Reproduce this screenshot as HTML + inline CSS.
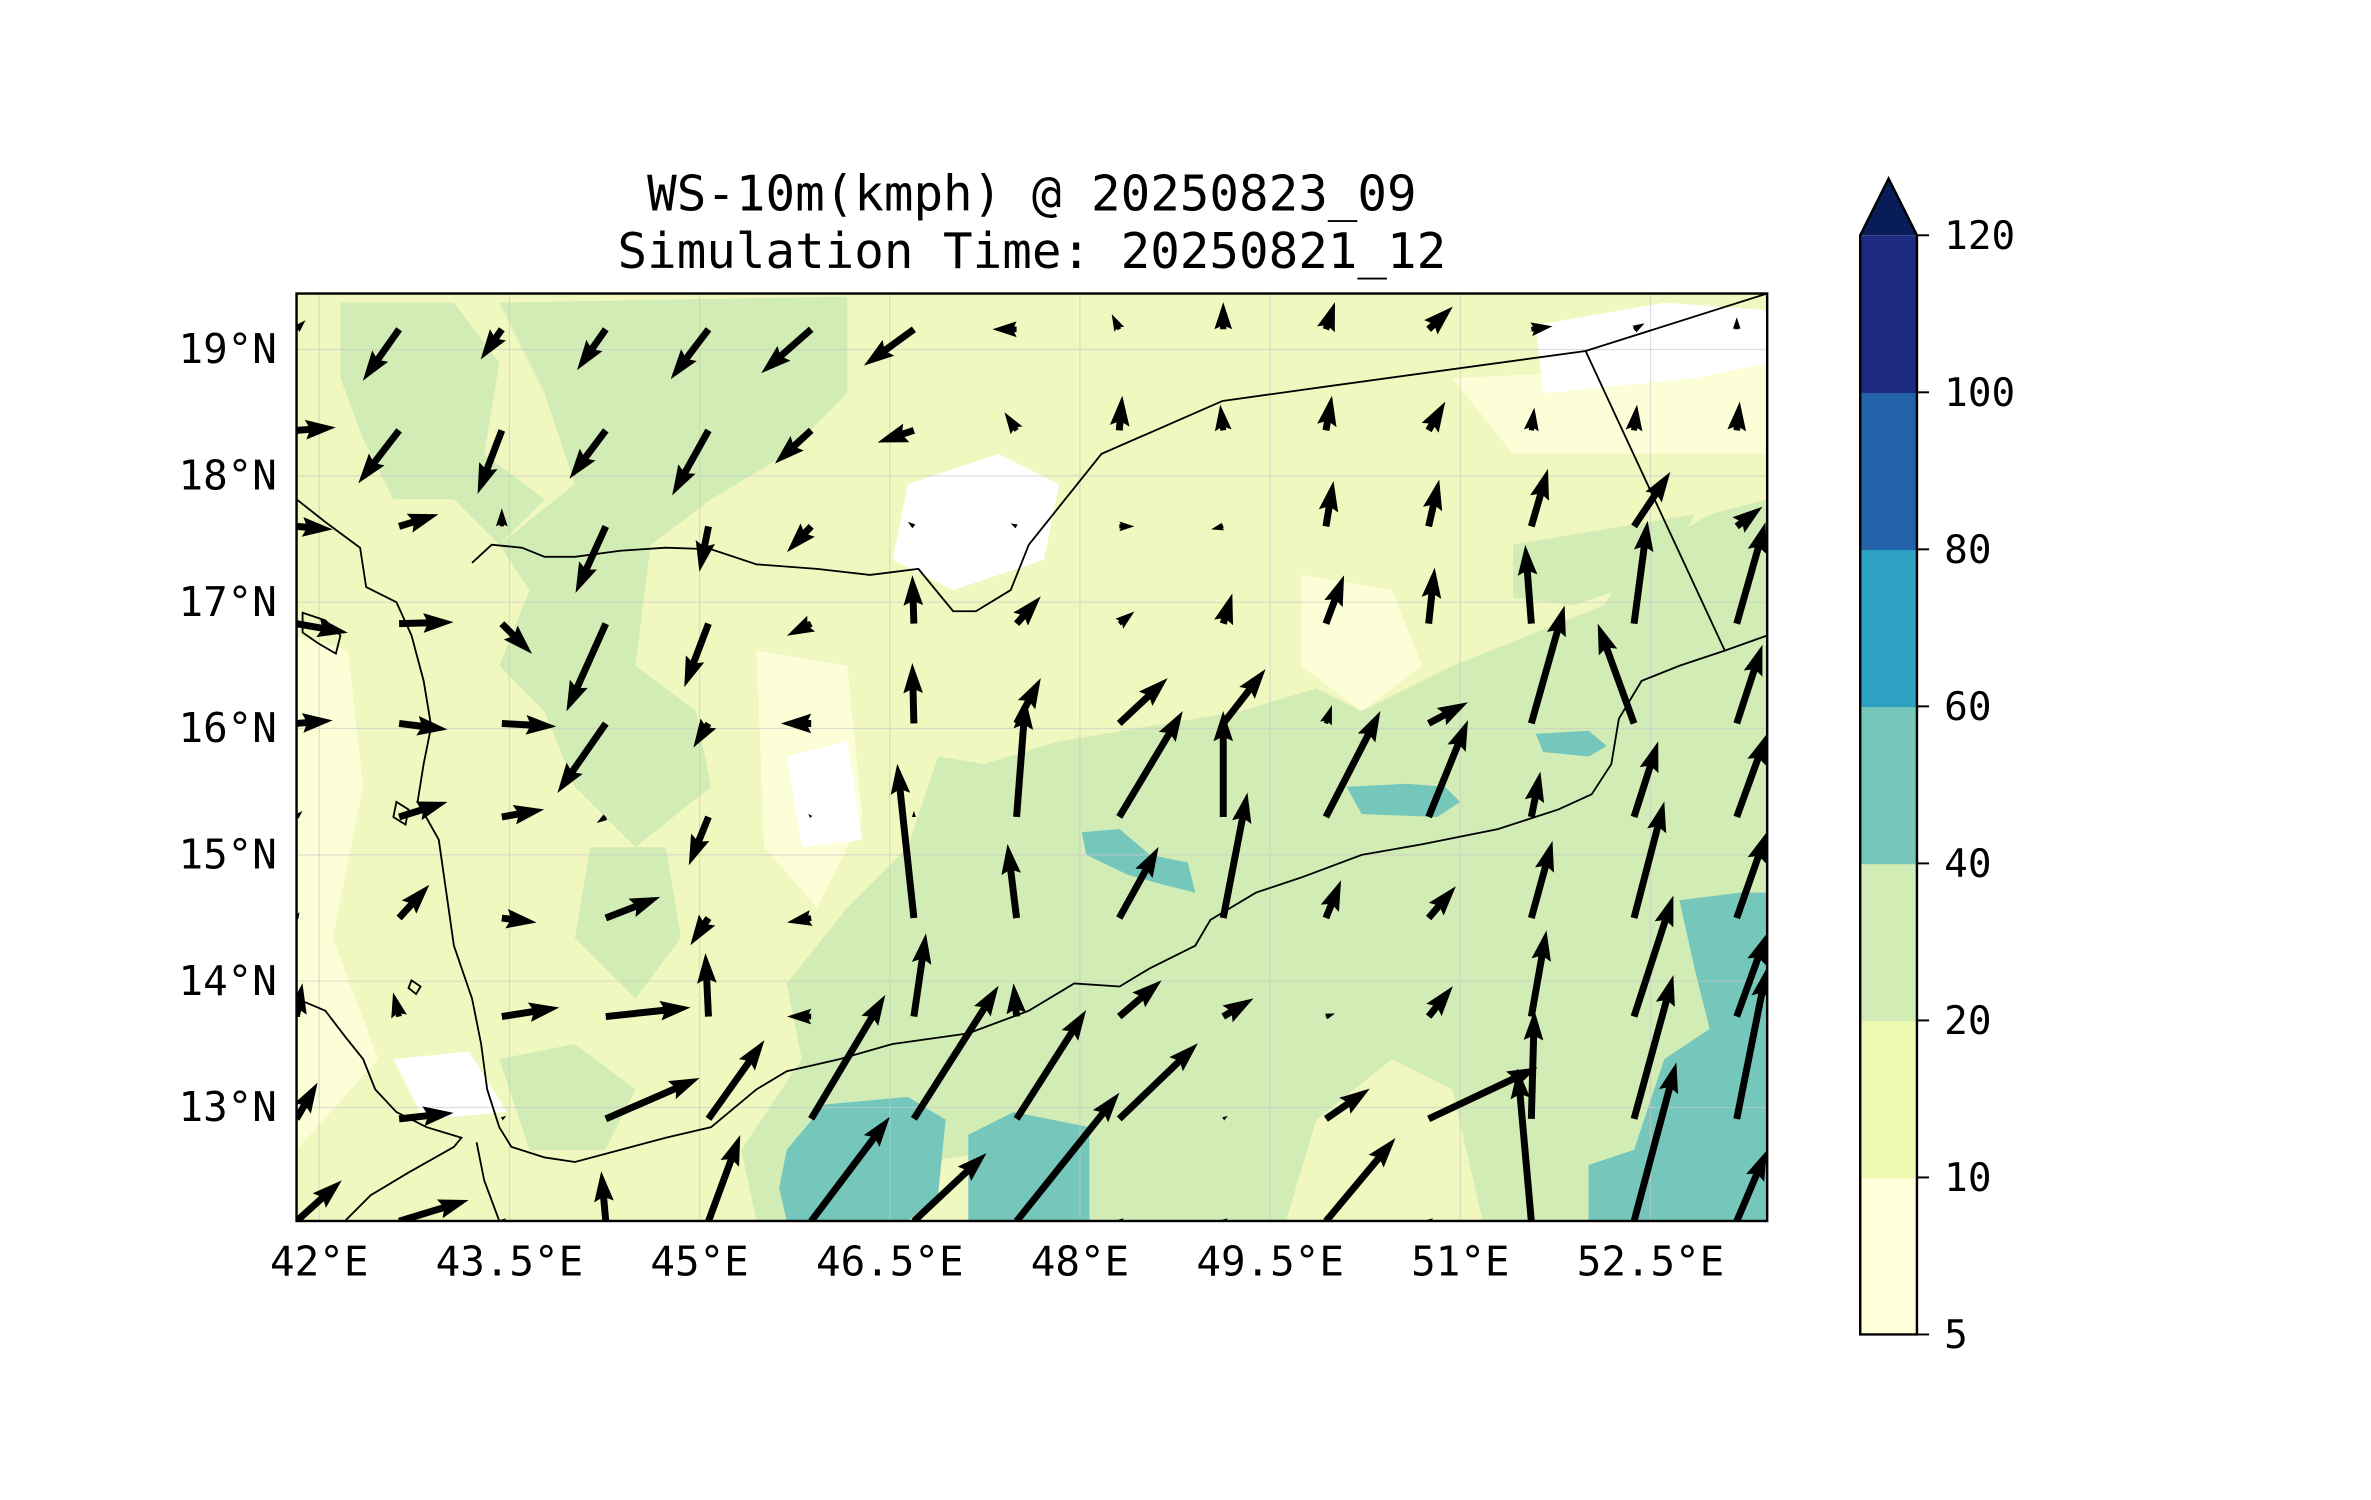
<!DOCTYPE html>
<html><head><meta charset="utf-8"><style>
html,body{margin:0;padding:0;background:#fff;}
svg{display:block;}
text{font-family:"DejaVu Sans Mono","Liberation Mono",monospace;fill:#000;}
</style></head><body>
<svg id="fig" width="2371" height="1500" viewBox="0 0 1567.1 991.4" xmlns="http://www.w3.org/2000/svg">
<defs><clipPath id="mapclip"><rect x="196" y="194" width="972" height="613"/></clipPath></defs>
<text x="682" y="139" font-size="32.5" text-anchor="middle">WS-10m(kmph) @ 20250823_09</text>
<text x="682" y="177" font-size="32.5" text-anchor="middle">Simulation Time: 20250821_12</text>
<g id="map" clip-path="url(#mapclip)">
<rect x="196" y="194" width="972" height="613" fill="#f0f8bf"/>
<g id="fills">
<path fill="#fbfed6" d="M196,420 L230,430 L240,520 L220,620 L250,700 L196,760Z M500,430 L560,440 L570,540 L540,600 L505,560Z M860,380 L920,390 L940,440 L900,470 L860,440Z M700,700 L820,690 L860,760 L820,807 L700,807Z M960,250 L1168,240 L1168,300 L1000,300Z"/>
<path fill="#ffffff" d="M600,320 L660,300 L700,320 L690,370 L630,390 L590,370Z M875,465 L905,470 L905,505 L878,505Z M1015,215 L1100,200 L1168,205 L1168,240 L1120,250 L1020,260Z M520,500 L560,490 L570,555 L530,560Z M260,700 L310,695 L335,735 L280,740Z M780,720 L820,730 L810,760 L780,755Z"/>
<path fill="#d2ecb5" d="M225,200 L300,200 L330,240 L320,300 L360,330 L330,360 L300,330 L260,330 L240,290 L225,250Z M330,200 L560,196 L560,260 L520,300 L470,330 L430,360 L420,440 L460,470 L470,520 L420,560 L380,520 L360,470 L330,440 L350,390 L330,360 L380,320 L360,260Z M390,560 L440,560 L450,620 L420,660 L380,620Z"/>
<path fill="#d2ecb5" d="M560,600 L600,560 L620,500 L650,505 L700,490 L760,480 L820,470 L870,455 L900,470 L960,440 L1010,420 L1060,400 L1080,370 L1130,340 L1168,330 L1168,807 L980,807 L960,720 L920,700 L870,740 L850,807 L700,807 L660,760 L600,770 L560,807 L500,807 L490,760 L530,700 L520,650Z M900,560 L960,550 L1040,530 L1070,520 L1070,600 L980,620 L930,640Z M1000,360 L1060,350 L1120,340 L1100,380 L1040,400 L1000,395Z M330,700 L380,690 L420,720 L400,760 L350,760Z"/>
<path fill="#74c7ba" d="M520,760 L545,730 L600,725 L625,740 L620,790 L600,807 L520,807 L515,785Z M640,750 L670,735 L720,745 L720,807 L640,807Z M1110,595 L1150,590 L1168,590 L1168,807 L1050,807 L1050,770 L1080,760 L1100,700 L1130,680 L1120,640Z M715,550 L740,548 L760,565 L785,570 L790,590 L770,585 L745,578 L718,565Z M890,520 L930,518 L955,520 L965,530 L950,540 L900,538Z M1015,485 L1050,483 L1062,493 L1050,500 L1020,497Z"/>
</g>
<g stroke="#c8c8c8" stroke-opacity="0.6" stroke-width="0.8" id="grid"></g>
<g fill="none" stroke="#000" stroke-width="1.2">
<polyline points="196,330 215,345 238,362 242,388 262,398 272,420 280,450 285,480 280,505 276,530 290,555 295,590 300,625 312,660 318,690 322,720 330,745 338,758 360,765 380,768 410,760 440,752 470,745 500,720 520,708 555,700 590,690 640,683 680,668 710,650 740,652 760,640 790,625 800,608 830,590 860,580 900,565 940,558 990,548 1030,535 1052,525 1065,505 1070,475 1085,450 1110,440 1140,430 1168,420"/>
<polyline points="312,372 325,360 345,362 360,368 380,368 410,364 440,362 470,363 500,373 540,376 575,380 607,376 630,404 645,404 668,390 680,360 728,300 808,265 880,255 1048,232 1168,194"/>
<polyline points="1048,232 1140,430"/>
<polyline points="196,660 215,668 228,685 240,700 248,720 262,735 282,745 305,752 300,758 270,775 245,790 228,807"/>
<polyline points="330,807 320,780 315,755"/>
<path d="M200,405 L215,410 L225,420 L222,432 L210,425 L200,418Z M262,530 L270,535 L268,545 L260,540Z M272,648 L278,652 L275,657 L270,653Z"/>
</g>
<g id="arrows"></g>
</g>
<rect x="196" y="194" width="972" height="613" fill="none" stroke="#000" stroke-width="1.6"/>
<g id="axes"></g>
<g id="cbar"></g>
</svg>
<script>
// axis functions
const X0 = 211, Y0 = 231, PXLON = 83.8, PXLAT = 83.5;
function xs(lon){ return X0 + (lon - 42) * PXLON; }
function ys(lat){ return Y0 + (19 - lat) * PXLAT; }

const lonTicks = [42, 43.5, 45, 46.5, 48, 49.5, 51, 52.5];
const lonLabels = ["42°E","43.5°E","45°E","46.5°E","48°E","49.5°E","51°E","52.5°E"];
const latTicks = [13, 14, 15, 16, 17, 18, 19];
const latLabels = ["13°N","14°N","15°N","16°N","17°N","18°N","19°N"];

// wind grid (lon / lat of arrow tails)
const gridLons = [41.82,42.63,43.44,44.26,45.07,45.88,46.69,47.50,48.31,49.13,49.94,50.75,51.56,52.37,53.18];
const gridLats = [19.16,18.36,17.60,16.83,16.04,15.30,14.50,13.72,12.91,12.10];
// u (east) and v (north) components, rows north to south
const U = [
 [ 6,-24,-14,-19,-25,-33,-33,-16, -5,  0,  6, 16, 14,  7,  0],
 [26,-27,-16,-24,-24,-24,-24, -8,  2, -2,  4, 11,  2,  2,  2],
 [24, 26,  0,-20, -6,-16, -4, -4, 10, -8,  5,  7, 11, 24, 17],
 [34, 36, 20,-26,-16,-16, -1, 16, 10,  6, 12,  4, -4,  9, 19],
 [24, 32, 36,-32,-10,-20, -1, 16, 32, 28,  4, 26, 22,-24, 17],
 [ 4, 32, 28, -6,-13, -2,  0,  6, 42,  0, 36, 26,  6, 16, 20],
 [ 2, 20, 23, 36,-12,-16,-11, -6, 26, 16, 10, 18, 14, 20, 20],
 [ 4, -4, 38, 56, -2,-16,  8, -2, 28, 20,  6, 16, 10, 26, 20],
 [14, 36,  3, 62, 37, 49, 56, 46, 52,  3, 29, 72,  2, 26, 20],
 [30, 46,  3, -3, 21, 52, 48, 68,  3,  3, 46,  3, -9, 28, 20]
];
const V = [
 [ 6,-34,-20,-27,-33,-29,-24,  0, 10, 18, 18, 15,  2,  4,  8],
 [ 2,-35,-42,-32,-43,-22, -8, 12, 23, 17, 23, 19, 15, 17, 19],
 [-2,  8, 12,-44,-30,-17,  3,  2,  0, -2, 30, 31, 38, 36, 13],
 [-6,  1,-20,-58,-42, -8, 32, 18,  8, 20, 32, 37, 52, 68, 67],
 [ 2, -4, -2,-46,-16,  0, 40, 30, 30, 36, 12, 14, 78, 66, 52],
 [ 4, 10,  5, -4,-32,  2,  4, 78, 70, 70, 70, 64, 30, 50, 55],
 [ 4, 22, -3, 14,-18, -3,102, 49, 47, 83, 25, 21, 51, 77, 57],
 [22, 16,  6,  6, 42,  0, 55, 22, 24, 12,  2, 20, 57, 80, 55],
 [24,  4,  2, 27, 52, 82, 88, 72, 50,  2, 20, 34, 72, 95,100],
 [27, 14,  2, 33, 57, 69, 45, 85,  2,  2, 55,  2,101,105, 47]
];
const VSCALE = 1.0; // px per kmph-unit

const cbBounds = [5, 10, 20, 40, 60, 80, 100, 120];
const cbColors = ["#ffffd9","#edf8b1","#d2ecb5","#74c7ba","#2ca1c2","#2262a8","#1d2c80"];
const cbOver = "#081d58";

const NS = "http://www.w3.org/2000/svg";
function mk(tag, attrs, parent){ const e=document.createElementNS(NS,tag); for(const k in attrs) e.setAttribute(k,attrs[k]); parent.appendChild(e); return e; }

// grid lines
const grid = document.getElementById('grid');
lonTicks.forEach(l=>{ const e=mk('line',{x1:xs(l),x2:xs(l),y1:194,y2:807},grid);
  
   });
latTicks.forEach(l=>{ const e=mk('line',{x1:196,x2:1168,y1:ys(l),y2:ys(l)},grid);
  
   });

// axis labels
const axes = document.getElementById('axes');
lonTicks.forEach((l,i)=>{ const t=mk('text',{x:xs(l),y:843,'font-size':27,'text-anchor':'middle'},axes); t.textContent=lonLabels[i];
  
   });
latTicks.forEach((l,i)=>{ const t=mk('text',{x:183,y:ys(l)+9,'font-size':27,'text-anchor':'end'},axes); t.textContent=latLabels[i];
  
   });

// arrows
const arrows = document.getElementById('arrows');
const SW=4.6, HW=13, HL=20, HAL=18;
for(let r=0;r<gridLats.length;r++){
  for(let c=0;c<gridLons.length;c++){
    const u=U[r][c]*VSCALE, v=V[r][c]*VSCALE;
    const L=Math.hypot(u,v); if(L<1) continue;
    const x0=xs(gridLons[c]), y0=ys(gridLats[r]);
    const ang=Math.atan2(-v,u)*180/Math.PI;
    let s=1; if(L<HL) s=L/HL;
    const hl=HL*s, hal=HAL*s, hw=HW*s, sw=SW*Math.max(s,0.6);
    const pts=[[0,-sw/2],[L-hal,-sw/2],[L-hl,-hw/2],[L,0],[L-hl,hw/2],[L-hal,sw/2],[0,sw/2]].map(p=>p.join(',')).join(' ');
    const p=mk('polygon',{points:pts,fill:'#000',transform:`translate(${x0},${y0}) rotate(${ang})`},arrows);
    
    
  }
}

// colorbar
const cb=document.getElementById('cbar');
const CBX=1229.5, CBW=37.5, CBTOP=155.5, CBBOT=882;
const band=(CBBOT-CBTOP)/(cbBounds.length-1);
function cby(i){ return CBBOT - i*band; }
cbColors.forEach((col,i)=>{ const r=mk('rect',{x:CBX,y:cby(i+1),width:CBW,height:band+0.5,fill:col},cb);
  
   });
const tri=mk('polygon',{points:`${CBX},${CBTOP} ${CBX+CBW/2},118 ${CBX+CBW},${CBTOP}`,fill:cbOver},cb);


const outline=mk('polygon',{points:`${CBX},${CBBOT} ${CBX},${CBTOP} ${CBX+CBW/2},118 ${CBX+CBW},${CBTOP} ${CBX+CBW},${CBBOT}`,fill:'none',stroke:'#000','stroke-width':1.6},cb);


cbBounds.forEach((b,i)=>{ const y=cby(i);
  const tk=mk('line',{x1:CBX+CBW,x2:CBX+CBW+8,y1:y,y2:y,stroke:'#000','stroke-width':1.3},cb);
  
  
  const t=mk('text',{x:1285,y:y+9,'font-size':26},cb); t.textContent=String(b);
  
   });
</script>
</body></html>
